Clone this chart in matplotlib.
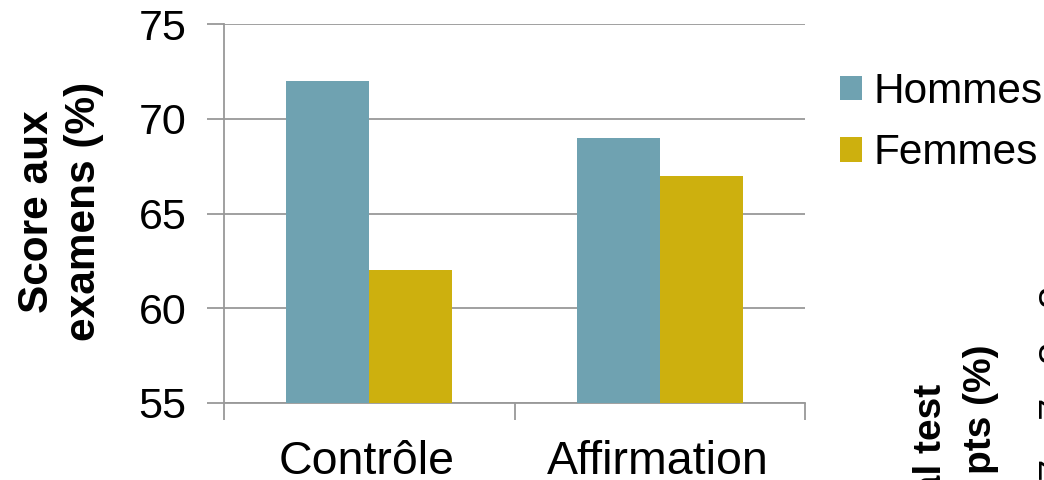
import matplotlib
matplotlib.use("Agg")
import matplotlib.pyplot as plt
import numpy as np

plt.rcParams['font.family'] = ['Liberation Sans', 'DejaVu Sans']

categories = ["Contrôle", "Affirmation"]
hommes = [72, 69]
femmes = [62, 67]
series_names = ["Hommes", "Femmes"]
yticks = [55, 60, 65, 70, 75]

c_h = "#6FA2B1"
c_f = "#CDB00E"
grey = "#999999"

fig = plt.figure(figsize=(10.44, 4.8), dpi=100)
ax = fig.add_axes([224/1044, 1 - 403/480, (805-224)/1044, (403-24)/480])

x = np.arange(len(categories))
w = 0.285
ax.bar(x - w/2, hommes, w, color=c_h, label=series_names[0], zorder=3)
ax.bar(x + w/2, femmes, w, color=c_f, label=series_names[1], zorder=3)

ax.set_xlim(-0.5, 1.5)
ax.set_ylim(55, 75)
ax.set_yticks(yticks)
ax.set_yticklabels([str(v) for v in yticks], fontsize=31)
ax.yaxis.grid(True, color=grey, linewidth=1.3, zorder=0)
ax.set_axisbelow(True)
for s in ['top', 'right']:
    ax.spines[s].set_visible(False)
for s in ['left', 'bottom']:
    ax.spines[s].set_color(grey)
    ax.spines[s].set_linewidth(1.3)
ax.tick_params(axis='y', length=12, width=1.3, color=grey, pad=15)
ax.set_xticks([-0.5, 0.5, 1.5])
ax.set_xticklabels([])
ax.tick_params(axis='x', length=12, width=1.3, color=grey)
for xi, lab in zip(x, categories):
    ax.text(xi - 0.008, -(474-403)/379, lab, transform=ax.get_xaxis_transform(),
            ha='center', va='baseline', fontsize=33.5)

ax.set_ylabel("Score aux\nexamens (%)", fontsize=30.5, fontweight='bold',
              linespacing=1.24)
ax.yaxis.set_label_coords((104-224)/581, 0.505)

leg = fig.legend(loc='upper left', bbox_to_anchor=(840/1044, 1 - 72/480), frameon=False,
                 fontsize=30.5, handlelength=0.53, handleheight=0.53, handletextpad=0.27,
                 labelspacing=0.5, borderaxespad=0, borderpad=0)

# fragment of neighbouring chart, clipped by the figure edge
fig.text(931/1044, 1 - 384/480, "Temps total test", rotation=90, fontsize=28, fontweight='bold',
         ha='center', va='top')
fig.text(981/1044, 1 - 345/480, "pts (%)", rotation=90, fontsize=28, fontweight='bold',
         ha='center', va='top')
for yy, t in zip([296, 352, 407, 468], ["8", "8", "7", "7"]):
    fig.text(1036/1044, 1 - yy/480, t, rotation=90, fontsize=29, ha='left', va='center')

fig.savefig("out.png", dpi=100)
